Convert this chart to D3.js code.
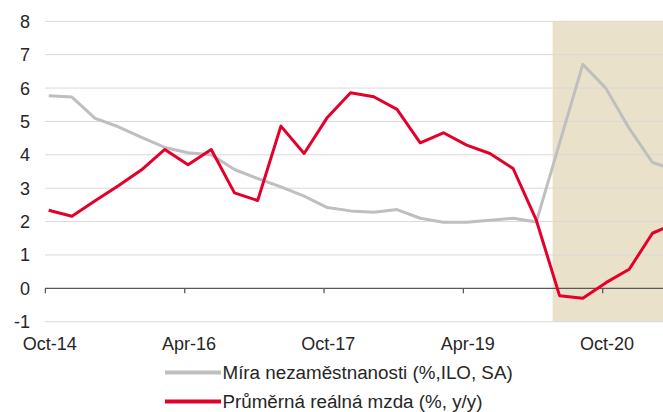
<!DOCTYPE html>
<html>
<head>
<meta charset="utf-8">
<script src="https://cdn.jsdelivr.net/npm/d3@7"></script>
<style>
  body { margin: 0; background: #fff; }
  text { font-family: "Liberation Sans", Arial, sans-serif; fill: #262626; }
</style>
</head>
<body>
<div id="chart"></div>
<script>
// quarters, starting Oct-14
const quarters = ["2014-10","2015-01","2015-04","2015-07","2015-10","2016-01","2016-04","2016-07",
  "2016-10","2017-01","2017-04","2017-07","2017-10","2018-01","2018-04","2018-07",
  "2018-10","2019-01","2019-04","2019-07","2019-10","2020-01","2020-04","2020-07",
  "2020-10","2021-01","2021-04","2021-07"];
const unemployment = [5.77,5.73,5.09,4.84,4.52,4.22,4.06,4.00,3.56,3.29,3.04,2.76,2.42,2.32,2.28,2.36,
  2.10,1.98,1.98,2.04,2.10,1.99,4.35,6.71,5.99,4.79,3.77,3.55];
const realWage = [2.34,2.16,2.62,3.07,3.55,4.16,3.70,4.16,2.86,2.63,4.86,4.04,5.12,5.86,5.74,5.36,
  4.36,4.66,4.29,4.04,3.59,2.04,-0.22,-0.30,0.17,0.57,1.65,1.95];
const tickQuarters = ["2014-10","2016-04","2017-10","2019-04","2020-10"];
const tickLabels = ["Oct-14","Apr-16","Oct-17","Apr-19","Oct-20"];
const yTicks = [-1,0,1,2,3,4,5,6,7,8];
const shadeStart = 21.7; // quarter index where the shaded period begins
const seriesNames = ["Míra nezaměstnanosti (%,ILO, SA)", "Průměrná reálná mzda (%, y/y)"];

const W = 663, H = 412;
const svg = d3.select("#chart").append("svg")
  .attr("width", W).attr("height", H);

const x = d3.scaleLinear().domain([0, 24]).range([48.7, 606]);
const y = d3.scaleLinear().domain([-1, 8]).range([321.7, 21.3]);
const gridLeft = 45, gridRight = W;

// shaded period
svg.append("rect")
  .attr("x", x(shadeStart))
  .attr("y", y(8))
  .attr("width", gridRight - x(shadeStart))
  .attr("height", y(-1) - y(8))
  .attr("fill", "#eae1ca");

// gridlines + y labels
svg.append("g").selectAll("line")
  .data(yTicks.filter(d => d !== 0))
  .join("line")
    .attr("x1", gridLeft).attr("x2", gridRight)
    .attr("y1", d => y(d)).attr("y2", d => y(d))
    .attr("stroke", "#d9d9d9").attr("stroke-width", 1);

svg.append("g").selectAll("text")
  .data(yTicks)
  .join("text")
    .attr("x", 30)
    .attr("y", d => y(d))
    .attr("dy", "0.36em")
    .attr("text-anchor", "end")
    .attr("font-size", 18)
    .text(d => d);

// zero axis with ticks
svg.append("line")
  .attr("x1", gridLeft).attr("x2", gridRight)
  .attr("y1", y(0)).attr("y2", y(0))
  .attr("stroke", "#595959").attr("stroke-width", 1.3);

const tickIdx = tickQuarters.map(q => quarters.indexOf(q));
svg.append("g").selectAll("line")
  .data(tickIdx)
  .join("line")
    .attr("x1", d => x(d) - 3.3).attr("x2", d => x(d) - 3.3)
    .attr("y1", y(0)).attr("y2", y(0) + 5)
    .attr("stroke", "#595959").attr("stroke-width", 1.3);

svg.append("g").selectAll("text")
  .data(tickIdx)
  .join("text")
    .attr("x", d => x(d) + 1)
    .attr("y", 350)
    .attr("text-anchor", "middle")
    .attr("font-size", 18)
    .text((d, i) => tickLabels[i]);

// lines
const line = d3.line().x((d, i) => x(i)).y(d => y(d));
svg.append("path")
  .datum(unemployment)
  .attr("d", line)
  .attr("fill", "none")
  .attr("stroke", "#bfbfbf")
  .attr("stroke-width", 3)
  .attr("stroke-linejoin", "round");
svg.append("path")
  .datum(realWage)
  .attr("d", line)
  .attr("fill", "none")
  .attr("stroke", "#e4002b")
  .attr("stroke-width", 3)
  .attr("stroke-linejoin", "round");

// legend
const legendColors = ["#bfbfbf", "#e4002b"];
const leg = svg.append("g").selectAll("g")
  .data(seriesNames)
  .join("g")
    .attr("transform", (d, i) => `translate(165,${372.5 + i * 29})`);
leg.append("line")
  .attr("x1", 0).attr("x2", 56)
  .attr("stroke", (d, i) => legendColors[i])
  .attr("stroke-width", 4);
leg.append("text")
  .attr("x", 57.5)
  .attr("dy", "0.36em")
  .attr("font-size", 18.8)
  .text(d => d);
</script>
</body>
</html>
